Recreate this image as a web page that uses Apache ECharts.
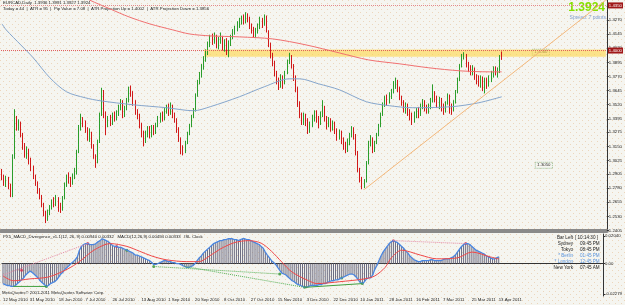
<!DOCTYPE html>
<html>
<head>
<meta charset="utf-8">
<script src="https://cdn.jsdelivr.net/npm/echarts@6/dist/echarts.min.js"></script>
<style>
  html, body { margin: 0; padding: 0; background: #f4f4ef; }
  #chart { width: 625px; height: 305px; }
</style>
</head>
<body>
<div id="chart"></div>
<script>
// EURCAD daily, 12 May 2010 .. 13 Apr 2011
const firstOpen = 1.2930
const closes = [
  1.2880, 1.2830, 1.2860, 1.2800, 1.2720, 1.3050, 1.3380, 1.3330, 1.3350, 1.3250,
  1.3150, 1.3080, 1.3110, 1.3010, 1.2960, 1.2880, 1.2820, 1.2760, 1.2700, 1.2640,
  1.2560, 1.2510, 1.2560, 1.2610, 1.2660, 1.2640, 1.2680, 1.2620, 1.2600, 1.2690,
  1.2810, 1.2880, 1.2850, 1.2820, 1.2880, 1.2920, 1.3100, 1.3310, 1.3390, 1.3360,
  1.3300, 1.3230, 1.3270, 1.3160, 1.3060, 1.3010, 1.3190, 1.3430, 1.3640, 1.3420,
  1.3340, 1.3400, 1.3370, 1.3430, 1.3400, 1.3440, 1.3500, 1.3540, 1.3430, 1.3490,
  1.3560, 1.3660, 1.3620, 1.3540, 1.3460, 1.3420, 1.3340, 1.3260, 1.3210, 1.3260,
  1.3300, 1.3250, 1.3310, 1.3280, 1.3340, 1.3390, 1.3430, 1.3400, 1.3470, 1.3500,
  1.3460, 1.3500, 1.3430, 1.3390, 1.3300, 1.3220, 1.3120, 1.3100, 1.3180, 1.3260,
  1.3330, 1.3410, 1.3470, 1.3600, 1.3720, 1.3790, 1.3850, 1.3930, 1.3980, 1.4050,
  1.4120, 1.4080, 1.4130, 1.4050, 1.4090, 1.4120, 1.4030, 1.4080, 1.4010, 1.4060,
  1.4120, 1.4170, 1.4200, 1.4240, 1.4270, 1.4290, 1.4260, 1.4310, 1.4280, 1.4220,
  1.4180, 1.4150, 1.4170, 1.4220, 1.4270, 1.4230, 1.4300, 1.4170, 1.4060, 1.3960,
  1.3900, 1.3800, 1.3740, 1.3700, 1.3760, 1.3710, 1.3800, 1.3900, 1.3950, 1.3870,
  1.3760, 1.3660, 1.3530, 1.3430, 1.3370, 1.3420, 1.3380, 1.3300, 1.3340, 1.3400,
  1.3450, 1.3390, 1.3360, 1.3420, 1.3500, 1.3400, 1.3340, 1.3380, 1.3320, 1.3350,
  1.3290, 1.3240, 1.3270, 1.3200, 1.3160, 1.3110, 1.3180, 1.3250, 1.3300, 1.3240,
  1.3100, 1.2950, 1.2860, 1.2810, 1.2840, 1.3000, 1.3180, 1.3200, 1.3130, 1.3180,
  1.3250, 1.3330, 1.3430, 1.3520, 1.3580, 1.3540, 1.3600, 1.3640, 1.3700, 1.3720,
  1.3660, 1.3590, 1.3540, 1.3480, 1.3510, 1.3450, 1.3420, 1.3390, 1.3430, 1.3470,
  1.3440, 1.3510, 1.3540, 1.3490, 1.3470, 1.3500, 1.3560, 1.3610, 1.3580, 1.3530,
  1.3560, 1.3500, 1.3470, 1.3530, 1.3600, 1.3510, 1.3470, 1.3540, 1.3630, 1.3740,
  1.3860, 1.3950, 1.3960, 1.3880, 1.3850, 1.3810, 1.3840, 1.3770, 1.3740, 1.3720,
  1.3750, 1.3700, 1.3730, 1.3720, 1.3760, 1.3790, 1.3840, 1.3800, 1.3820, 1.3936,
  1.3924
]
const highs = [
  1.2950, 1.2900, 1.2890, 1.2880, 1.2820, 1.3080, 1.3480, 1.3420, 1.3390, 1.3370,
  1.3270, 1.3180, 1.3150, 1.3130, 1.3050, 1.2980, 1.2900, 1.2840, 1.2780, 1.2720,
  1.2650, 1.2580, 1.2590, 1.2630, 1.2680, 1.2700, 1.2720, 1.2700, 1.2650, 1.2710,
  1.2830, 1.2900, 1.2920, 1.2880, 1.2910, 1.2960, 1.3120, 1.3340, 1.3440, 1.3410,
  1.3380, 1.3320, 1.3310, 1.3280, 1.3170, 1.3080, 1.3210, 1.3450, 1.3670, 1.3650,
  1.3460, 1.3420, 1.3430, 1.3450, 1.3460, 1.3470, 1.3520, 1.3570, 1.3560, 1.3510,
  1.3580, 1.3680, 1.3690, 1.3640, 1.3560, 1.3480, 1.3440, 1.3360, 1.3290, 1.3290,
  1.3330, 1.3330, 1.3340, 1.3340, 1.3360, 1.3420, 1.3450, 1.3460, 1.3490, 1.3520,
  1.3530, 1.3540, 1.3520, 1.3450, 1.3400, 1.3320, 1.3230, 1.3160, 1.3200, 1.3280,
  1.3350, 1.3430, 1.3490, 1.3620, 1.3740, 1.3810, 1.3880, 1.3950, 1.4010, 1.4080,
  1.4140, 1.4150, 1.4160, 1.4140, 1.4120, 1.4160, 1.4130, 1.4100, 1.4110, 1.4090,
  1.4140, 1.4190, 1.4220, 1.4260, 1.4290, 1.4310, 1.4320, 1.4340, 1.4330, 1.4300,
  1.4240, 1.4210, 1.4200, 1.4240, 1.4300, 1.4290, 1.4320, 1.4310, 1.4180, 1.4070,
  1.3980, 1.3910, 1.3820, 1.3760, 1.3790, 1.3780, 1.3820, 1.3920, 1.3980, 1.3960,
  1.3880, 1.3780, 1.3680, 1.3550, 1.3450, 1.3450, 1.3440, 1.3400, 1.3370, 1.3430,
  1.3470, 1.3470, 1.3420, 1.3460, 1.3560, 1.3510, 1.3420, 1.3410, 1.3400, 1.3380,
  1.3370, 1.3310, 1.3300, 1.3290, 1.3230, 1.3190, 1.3220, 1.3270, 1.3330, 1.3320,
  1.3260, 1.3110, 1.2960, 1.2880, 1.2860, 1.3020, 1.3200, 1.3250, 1.3230, 1.3200,
  1.3270, 1.3350, 1.3450, 1.3540, 1.3600, 1.3610, 1.3630, 1.3660, 1.3730, 1.3760,
  1.3740, 1.3680, 1.3600, 1.3560, 1.3540, 1.3530, 1.3480, 1.3450, 1.3460, 1.3490,
  1.3500, 1.3530, 1.3570, 1.3560, 1.3520, 1.3530, 1.3580, 1.3700, 1.3640, 1.3600,
  1.3590, 1.3580, 1.3530, 1.3550, 1.3620, 1.3610, 1.3530, 1.3560, 1.3650, 1.3760,
  1.3880, 1.3970, 1.3985, 1.3970, 1.3900, 1.3870, 1.3870, 1.3850, 1.3790, 1.3780,
  1.3780, 1.3770, 1.3760, 1.3760, 1.3780, 1.3820, 1.3860, 1.3860, 1.3850, 1.3960,
  1.3991
]
const lows = [
  1.2850, 1.2800, 1.2790, 1.2770, 1.2700, 1.2700, 1.3040, 1.3290, 1.3290, 1.3230,
  1.3120, 1.3050, 1.3040, 1.2990, 1.2930, 1.2860, 1.2800, 1.2730, 1.2680, 1.2610,
  1.2530, 1.2470, 1.2490, 1.2540, 1.2590, 1.2610, 1.2620, 1.2570, 1.2560, 1.2580,
  1.2680, 1.2790, 1.2820, 1.2790, 1.2810, 1.2860, 1.2900, 1.3090, 1.3290, 1.3320,
  1.3270, 1.3200, 1.3190, 1.3130, 1.3040, 1.2960, 1.3000, 1.3180, 1.3420, 1.3400,
  1.3250, 1.3320, 1.3330, 1.3340, 1.3370, 1.3380, 1.3420, 1.3470, 1.3400, 1.3410,
  1.3470, 1.3540, 1.3590, 1.3510, 1.3430, 1.3390, 1.3310, 1.3230, 1.3150, 1.3180,
  1.3230, 1.3220, 1.3230, 1.3250, 1.3260, 1.3320, 1.3360, 1.3370, 1.3380, 1.3440,
  1.3420, 1.3430, 1.3400, 1.3360, 1.3270, 1.3190, 1.3080, 1.3070, 1.3090, 1.3170,
  1.3250, 1.3320, 1.3400, 1.3460, 1.3590, 1.3700, 1.3760, 1.3830, 1.3900, 1.3960,
  1.4030, 1.4050, 1.4060, 1.4020, 1.4010, 1.4060, 1.4000, 1.3990, 1.3960, 1.3940,
  1.4040, 1.4100, 1.4140, 1.4170, 1.4200, 1.4230, 1.4230, 1.4240, 1.4250, 1.4190,
  1.4150, 1.4120, 1.4110, 1.4150, 1.4190, 1.4200, 1.4220, 1.4160, 1.4030, 1.3930,
  1.3860, 1.3770, 1.3700, 1.3650, 1.3670, 1.3660, 1.3700, 1.3790, 1.3880, 1.3840,
  1.3730, 1.3630, 1.3500, 1.3400, 1.3340, 1.3340, 1.3330, 1.3260, 1.3270, 1.3320,
  1.3370, 1.3360, 1.3310, 1.3340, 1.3410, 1.3370, 1.3300, 1.3320, 1.3280, 1.3290,
  1.3260, 1.3200, 1.3210, 1.3170, 1.3120, 1.3090, 1.3100, 1.3160, 1.3230, 1.3210,
  1.3070, 1.2920, 1.2830, 1.2770, 1.2780, 1.2830, 1.2990, 1.3150, 1.3090, 1.3100,
  1.3170, 1.3240, 1.3320, 1.3420, 1.3500, 1.3510, 1.3530, 1.3570, 1.3620, 1.3660,
  1.3630, 1.3560, 1.3510, 1.3450, 1.3440, 1.3420, 1.3380, 1.3340, 1.3360, 1.3400,
  1.3400, 1.3420, 1.3480, 1.3460, 1.3440, 1.3440, 1.3480, 1.3540, 1.3540, 1.3490,
  1.3480, 1.3460, 1.3430, 1.3450, 1.3520, 1.3440, 1.3430, 1.3460, 1.3530, 1.3620,
  1.3730, 1.3850, 1.3920, 1.3850, 1.3810, 1.3780, 1.3780, 1.3740, 1.3700, 1.3680,
  1.3670, 1.3640, 1.3620, 1.3660, 1.3680, 1.3720, 1.3760, 1.3780, 1.3760, 1.3800,
  1.3917
]

// moving averages, [bar index, price]
const maRed = [
  [38, 1.4490], [42, 1.4448], [52, 1.4368], [61, 1.4298], [71, 1.4236], [82, 1.4183],
  [90, 1.4147], [100, 1.4130], [114, 1.4121], [130, 1.4103], [146, 1.4050], [162, 1.3979],
  [176, 1.3917], [191, 1.3882], [205, 1.3847], [220, 1.3820], [234, 1.3811], [240, 1.3811]
]
const maBlue = [
  [0, 1.4236], [2, 1.4183], [9, 1.4050], [15, 1.3935], [23, 1.3758], [31, 1.3634],
  [40, 1.3581], [47, 1.3555], [63, 1.3519], [79, 1.3493], [92, 1.3466], [100, 1.3502],
  [114, 1.3590], [126, 1.3679], [138, 1.3749], [143, 1.3749], [152, 1.3705], [162, 1.3652],
  [175, 1.3546], [186, 1.3511], [197, 1.3493], [216, 1.3502], [229, 1.3537], [240, 1.3590]
]
const trendLine = [[174, 1.2768], [290, 1.4448]]

// MACD(12,26,9): main values per bar and signal
const macd = [
  -0.0150, -0.0157, -0.0164, -0.0164, -0.0171, -0.0171, -0.0164, -0.0150, -0.0136, -0.0122,
  -0.0108, -0.0086, -0.0072, -0.0058, -0.0065, -0.0079, -0.0093, -0.0108, -0.0129, -0.0143,
  -0.0157, -0.0171, -0.0164, -0.0150, -0.0143, -0.0136, -0.0122, -0.0101, -0.0079, -0.0065,
  -0.0044, -0.0030, -0.0016, -0.0001, 0.0013, 0.0027, 0.0048, 0.0098, 0.0126, 0.0140,
  0.0147, 0.0147, 0.0140, 0.0140, 0.0140, 0.0147, 0.0161, 0.0169, 0.0183, 0.0176,
  0.0169, 0.0161, 0.0147, 0.0133, 0.0126, 0.0126, 0.0119, 0.0119, 0.0112, 0.0105,
  0.0098, 0.0091, 0.0084, 0.0076, 0.0062, 0.0062, 0.0055, 0.0048, 0.0041, 0.0034,
  0.0027, 0.0020, 0.0006, -0.0008, -0.0008, -0.0001, 0.0006, 0.0013, 0.0020, 0.0020,
  0.0013, 0.0013, 0.0006, 0.0006, -0.0001, -0.0001, -0.0008, -0.0016, -0.0023, -0.0030,
  -0.0030, -0.0023, -0.0016, -0.0001, 0.0020, 0.0041, 0.0055, 0.0076, 0.0091, 0.0105,
  0.0119, 0.0133, 0.0147, 0.0154, 0.0161, 0.0169, 0.0169, 0.0176, 0.0176, 0.0183,
  0.0183, 0.0183, 0.0176, 0.0176, 0.0169, 0.0176, 0.0183, 0.0183, 0.0176, 0.0176,
  0.0169, 0.0161, 0.0154, 0.0147, 0.0140, 0.0126, 0.0112, 0.0084, 0.0062, 0.0041,
  0.0020, 0.0006, -0.0008, -0.0030, -0.0051, -0.0072, -0.0079, -0.0086, -0.0101, -0.0115,
  -0.0129, -0.0136, -0.0150, -0.0157, -0.0164, -0.0171, -0.0178, -0.0178, -0.0171, -0.0164,
  -0.0164, -0.0164, -0.0164, -0.0157, -0.0157, -0.0150, -0.0150, -0.0143, -0.0136, -0.0129,
  -0.0129, -0.0122, -0.0122, -0.0115, -0.0108, -0.0101, -0.0093, -0.0086, -0.0079, -0.0079,
  -0.0086, -0.0101, -0.0122, -0.0143, -0.0150, -0.0136, -0.0115, -0.0108, -0.0108, -0.0086,
  -0.0044, -0.0016, 0.0020, 0.0055, 0.0084, 0.0105, 0.0126, 0.0147, 0.0161, 0.0169,
  0.0161, 0.0154, 0.0140, 0.0126, 0.0112, 0.0091, 0.0076, 0.0055, 0.0041, 0.0027,
  0.0020, 0.0013, 0.0013, 0.0020, 0.0020, 0.0020, 0.0020, 0.0027, 0.0027, 0.0020,
  0.0020, 0.0020, 0.0020, 0.0027, 0.0034, 0.0034, 0.0034, 0.0041, 0.0048, 0.0062,
  0.0084, 0.0105, 0.0126, 0.0140, 0.0147, 0.0147, 0.0140, 0.0126, 0.0112, 0.0098,
  0.0091, 0.0084, 0.0076, 0.0069, 0.0055, 0.0048, 0.0041, 0.0034, 0.0034, 0.0041,
  0.0049
]
const signal = [
  [0, -0.0093], [5, -0.0129], [13, -0.0115], [22, -0.0101], [31, -0.0044], [37, 0.0013],
  [44, 0.0098], [52, 0.0147], [60, 0.0126], [66, 0.0091], [72, 0.0055], [79, 0.0027],
  [89, 0.0013], [95, 0.0013], [100, 0.0055], [105, 0.0105], [112, 0.0154], [119, 0.0169],
  [125, 0.0150], [130, 0.0090], [135, 0.0010], [140, -0.0065], [148, -0.0129], [152, -0.0150],
  [163, -0.0136], [175, -0.0115], [180, -0.0093], [185, -0.0030], [188, 0.0041], [193, 0.0098],
  [202, 0.0062], [210, 0.0034], [220, 0.0041], [227, 0.0084], [236, 0.0048], [240, 0.0033]
]
// divergence marks on the MACD panel
const bearLines = [[[0, -0.0086], [41, 0.0147]], [[189, 0.0169], [224, 0.0147]]]
const bullDotted = [[[73, -0.0023], [134, -0.0079]], [[88, -0.0023], [146, -0.0178]]]
const bullSolid = [[[5, -0.0171], [21, -0.0171]], [[146, -0.0178], [174, -0.0150]]]
const bearDots = [[41, 0.0147], [55, 0.0126], [189, 0.0169], [224, 0.0147], [9, -0.0050]]
const bullDots = [[21, -0.0171], [60, 0.0098], [73, -0.0023], [134, -0.0079], [146, -0.0178], [164, -0.0108], [174, -0.0150]]

const dateTicks = ['12 May 2010', '31 May 2010', '18 Jun 2010', '7 Jul 2010', '26 Jul 2010',
  '13 Aug 2010', '1 Sep 2010', '20 Sep 2010', '8 Oct 2010', '27 Oct 2010', '15 Nov 2010',
  '3 Dec 2010', '22 Dec 2010', '10 Jan 2011', '28 Jan 2011', '16 Feb 2011', '7 Mar 2011',
  '25 Mar 2011', '13 Apr 2011']
const priceTicks = [1.2405, 1.2530, 1.2655, 1.2780, 1.2905, 1.3025, 1.3150, 1.3275, 1.3395,
  1.3520, 1.3645, 1.3770, 1.3895, 1.4020, 1.4145, 1.4270, 1.4395]
const macdTicks = [0.0204, 0, -0.02279]
const macdTickLabels = ['0.02040', '0.00', '-0.02279']

const bandTop = 1.4010
const bandBottom = 1.3945
const bandStart = '24 Sep 2010'
const clockNames = ['Bar Left', 'Sydney', 'Tokyo', '* Berlin', '* London', 'New York']
const clockTimes = ['[ 10:14:30 ]', '09:45 PM', '08:45 PM', '01:45 PM', '12:45 PM', '07:45 AM']

// weekday categories, extended past the last bar for the chart shift
const months = ['Jan', 'Feb', 'Mar', 'Apr', 'May', 'Jun', 'Jul', 'Aug', 'Sep', 'Oct', 'Nov', 'Dec']
const dates = []
const d = new Date(2010, 4, 12)
while (dates.length < 291) {
  const wd = d.getDay()
  if (wd !== 0 && wd !== 6) dates.push(d.getDate() + ' ' + months[d.getMonth()] + ' ' + d.getFullYear())
  d.setDate(d.getDate() + 1)
}

const candles = closes.map((c, i) => [i ? closes[i - 1] : firstOpen, c, lows[i], highs[i]])

const tex = document.createElement('canvas')
tex.width = 6
tex.height = 6
const tc = tex.getContext('2d')
tc.fillStyle = '#f5f5f0'
tc.fillRect(0, 0, 6, 6)
tc.fillStyle = '#ecd6bc'
tc.fillRect(0, 0, 1, 1)
tc.fillRect(3, 3, 1, 1)

const FONT = 'Liberation Sans'
const TXT = 4.3
const small = { fontFamily: FONT, fontSize: TXT, color: '#222' }

const chart = echarts.init(document.getElementById('chart'), null, { renderer: 'canvas' })

const lineSeries = (data, color, opts = {}) => Object.assign({
  type: 'line', data, showSymbol: false, silent: true,
  lineStyle: { color, width: 1 }, itemStyle: { color }
}, opts)

const macdSeries = []
bearLines.forEach(seg => macdSeries.push(lineSeries(seg, '#e58aa6', { xAxisIndex: 1, yAxisIndex: 1, lineStyle: { color: '#e58aa6', width: 1, type: 'dotted' } })))
bullDotted.forEach(seg => macdSeries.push(lineSeries(seg, '#55b055', { xAxisIndex: 1, yAxisIndex: 1, lineStyle: { color: '#55b055', width: 1, type: 'dotted' } })))
bullSolid.forEach(seg => macdSeries.push(lineSeries(seg, '#3f9f3f', { xAxisIndex: 1, yAxisIndex: 1 })))

chart.setOption({
  animation: false,
  backgroundColor: { image: tex, repeat: 'repeat' },
  grid: [
    { left: 1, right: 17, top: 0, height: 231 },
    { left: 1, right: 17, top: 234, height: 62 }
  ],
  xAxis: [
    {
      type: 'category', gridIndex: 0, data: dates, boundaryGap: true,
      axisLabel: { show: false }, axisTick: { show: false },
      axisLine: { lineStyle: { color: '#8a8a8a', width: 4 } }
    },
    {
      type: 'category', gridIndex: 1, data: dates, boundaryGap: true,
      axisLine: { lineStyle: { color: '#333', width: 1 } },
      axisTick: { length: 2, alignWithLabel: true, interval: (i, v) => dateTicks.includes(v), lineStyle: { color: '#333' } },
      axisLabel: { ...small, align: 'left', margin: 2, interval: (i, v) => dateTicks.includes(v) }
    }
  ],
  yAxis: [
    {
      type: 'value', gridIndex: 0, position: 'right', min: 1.2400, max: 1.4448,
      splitLine: { show: false },
      axisLine: { show: true, lineStyle: { color: '#333' } },
      axisTick: { show: true, length: 2, customValues: priceTicks },
      axisLabel: { ...small, margin: 2, customValues: priceTicks, formatter: v => v.toFixed(4) }
    },
    {
      type: 'value', gridIndex: 1, position: 'right', min: -0.02421, max: 0.02182,
      splitLine: { show: false },
      axisLine: { show: true, lineStyle: { color: '#333' } },
      axisTick: { show: true, length: 2, customValues: macdTicks },
      axisLabel: { ...small, margin: 2, customValues: macdTicks, formatter: v => macdTickLabels[macdTicks.findIndex(t => Math.abs(t - v) < 1e-6)] || '' }
    }
  ],
  series: [
    lineSeries(maRed, '#f07070', { smooth: 0.3 }),
    lineSeries(maBlue, '#86a6cc', { smooth: 0.3 }),
    lineSeries(trendLine, '#f3b77a'),
    {
      type: 'candlestick', data: candles, barWidth: 1.3, silent: true,
      itemStyle: { color: '#2a9d2a', color0: '#d01818', borderColor: '#2a9d2a', borderColor0: '#d01818', borderWidth: 1 },
      markArea: {
        silent: true,
        itemStyle: { color: 'rgba(255, 214, 70, 0.6)' },
        data: [[{ xAxis: bandStart, yAxis: bandTop }, { xAxis: dates[dates.length - 1], yAxis: bandBottom }]]
      },
      markLine: {
        silent: true, symbol: ['none', 'none'],
        label: { position: 'end', distance: 1, fontFamily: FONT, fontSize: TXT, color: '#fff', padding: [1, 1] },
        data: [
          { yAxis: 1.4350, lineStyle: { color: '#e48a8a', type: 'dotted', width: 1 }, label: { formatter: '1.4350', backgroundColor: '#a01818' } },
          { yAxis: 1.4000, lineStyle: { color: '#e06060', type: 'dotted', width: 1 }, label: { formatter: '1.4000', backgroundColor: '#a01818' } },
          { yAxis: 1.3924, lineStyle: { opacity: 0 }, label: { formatter: '1.3924', backgroundColor: '#111' } }
        ]
      }
    },
    {
      type: 'bar', xAxisIndex: 1, yAxisIndex: 1, data: macd, barWidth: 1, silent: true,
      itemStyle: { color: '#6a6a80' }
    },
    lineSeries(macd, '#4a86e0', { xAxisIndex: 1, yAxisIndex: 1, lineStyle: { color: '#4a86e0', width: 1.3 } }),
    lineSeries(signal, '#f04848', { xAxisIndex: 1, yAxisIndex: 1, smooth: 0.3 }),
    ...macdSeries,
    {
      type: 'scatter', xAxisIndex: 1, yAxisIndex: 1, data: bearDots, symbolSize: 3, silent: true,
      itemStyle: { color: '#d8304f' }
    },
    {
      type: 'scatter', xAxisIndex: 1, yAxisIndex: 1, data: bullDots, symbolSize: 3, silent: true,
      itemStyle: { color: '#2f8f2f' }
    }
  ],
  graphic: [
    { type: 'text', left: 3, top: 1, silent: true, style: { text: 'EURCAD,Daily  1.3936 1.3991 1.3927 1.3924', font: TXT + 'px ' + FONT, fill: '#222' } },
    { type: 'text', left: 3, top: 7, silent: true, style: { text: 'Today = 44  |  ATR = 95  |  Pip Value = 7.08  |  ATR Projection Up = 1.4002  |  ATR Projection Down = 1.3856', font: TXT + 'px ' + FONT, fill: '#222' } },
    { type: 'text', right: 20, top: 2, silent: true, style: { text: '1.3924', font: 'bold 12px ' + FONT, fill: '#86e000' } },
    { type: 'text', right: 19, top: 15, silent: true, style: { text: 'Spread: 7 points', font: '5px ' + FONT, fill: '#7f9fcf' } },
    { type: 'text', left: 532, top: 49, silent: true, style: { text: '1.4000', font: TXT + 'px ' + FONT, fill: '#333', borderColor: '#5a9a5a', borderWidth: 0.6, borderDash: [1, 1], padding: [1, 2] } },
    { type: 'text', left: 535, top: 162, silent: true, style: { text: '1.3050', font: TXT + 'px ' + FONT, fill: '#333', borderColor: '#5a9a5a', borderWidth: 0.6, borderDash: [1, 1], padding: [1, 2] } },
    { type: 'text', left: 3, top: 235, silent: true, style: { text: 'PX5_MACD_Divergence_v1.1(12, 26, 9) 0.00940 0.00332   MACD(12,26,9) 0.00494 0.00333   ISL Clock', font: TXT + 'px ' + FONT, fill: '#222' } },
    { type: 'text', left: 2, top: 291, silent: true, style: { text: 'MetaQuotes\u00a9 2001-2011 MetaQuotes Software Corp.', font: TXT + 'px ' + FONT, fill: '#222' } },
    ...clockNames.map((n, k) => ({
      type: 'text', right: 625 - 573, top: 235 + k * 6, silent: true,
      style: { text: n, font: '4.6px ' + FONT, fill: n.startsWith('*') ? '#5b94dc' : '#222', align: 'right' }
    })),
    ...clockTimes.map((t, k) => ({
      type: 'text', left: k === 0 ? 575 : 580, top: 235 + k * 6, silent: true,
      style: { text: t, font: '4.6px ' + FONT, fill: (k === 3 || k === 4) ? '#5b94dc' : '#222' }
    }))
  ]
})
</script>
</body>
</html>
